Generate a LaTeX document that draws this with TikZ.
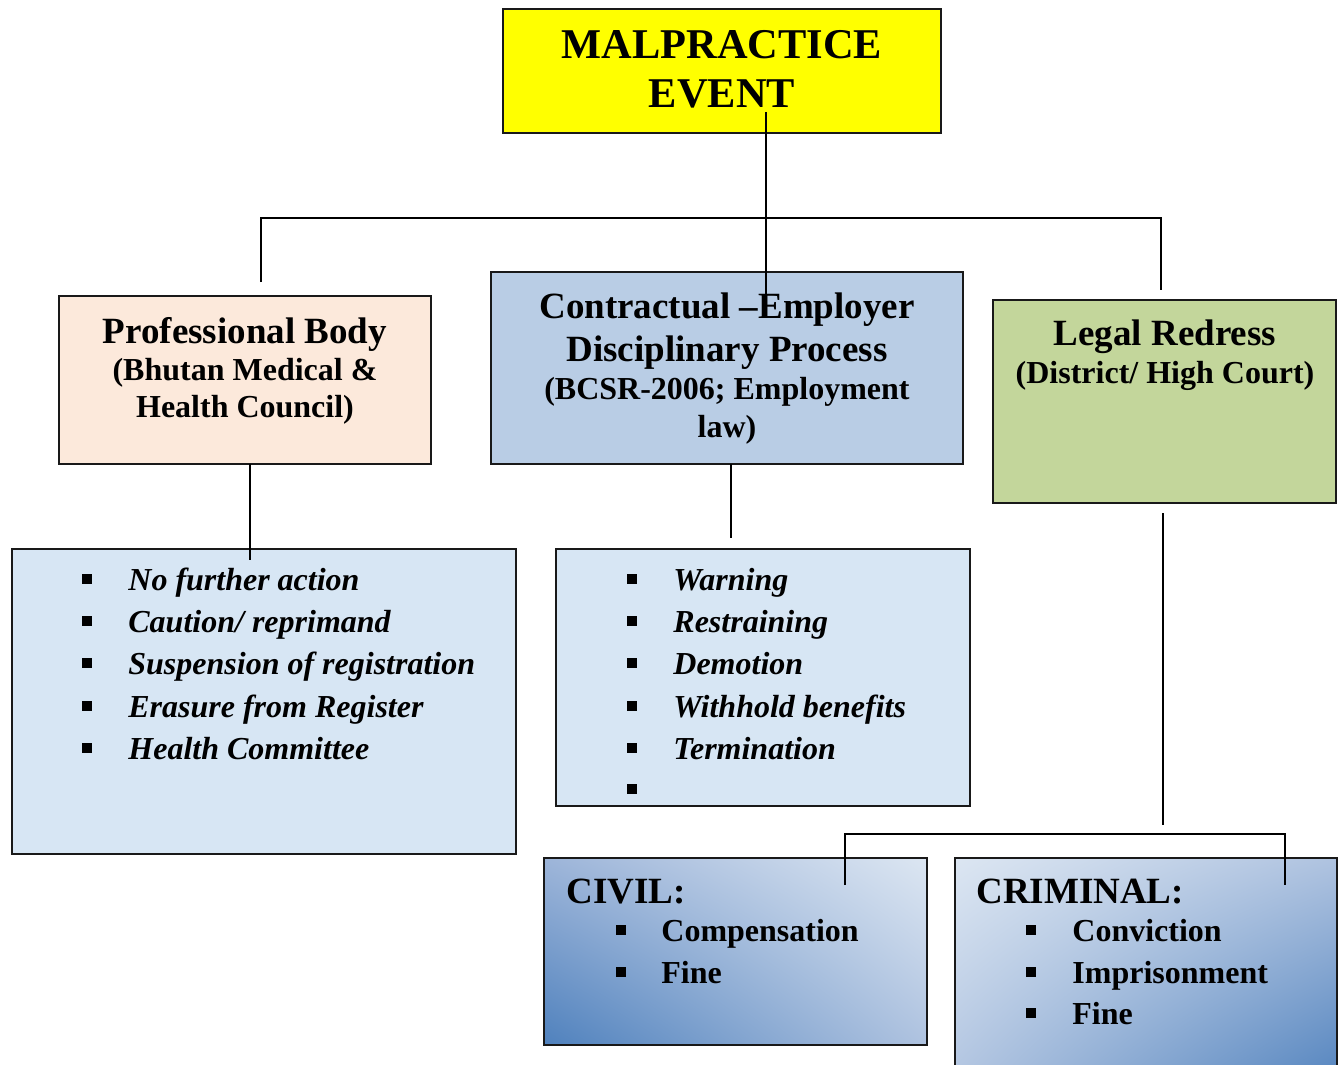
\documentclass[tikz,border=0pt]{standalone}
\usepackage{fontspec}
\setmainfont{Liberation Serif}
\usetikzlibrary{shadings}
\definecolor{peach}{HTML}{FCE9DB}
\definecolor{cblue}{HTML}{B9CDE5}
\definecolor{olivegreen}{HTML}{C3D69B}
\definecolor{lblue}{HTML}{D7E6F4}
\definecolor{gdark}{HTML}{4F81BD}
\definecolor{glight}{HTML}{DCE6F2}
\definecolor{gmid}{HTML}{9DB5D9}
\definecolor{gmid2}{HTML}{AFC3E0}
\definecolor{pureyellow}{HTML}{FFFF00}
\begin{document}
\begin{tikzpicture}[x=0.5pt,y=-0.5pt,
  box/.style={draw=black!90, line width=1pt, inner sep=0pt, rectangle},
  conn/.style={line width=1pt, draw=black},
  ttl/.style={font=\fontsize{21.2}{25}\selectfont\bfseries, inner sep=0pt, anchor=base},
  hd/.style={font=\fontsize{18.5}{22}\selectfont\bfseries, inner sep=0pt, anchor=base},
  sub/.style={font=\fontsize{16}{19}\selectfont\bfseries, inner sep=0pt, anchor=base},
  hdl/.style={font=\fontsize{18.5}{22}\selectfont\bfseries, inner sep=0pt, anchor=base west},
  item/.style={font=\fontsize{16}{19}\selectfont\bfseries\itshape, inner sep=0pt, anchor=base west},
  itemr/.style={font=\fontsize{16}{19}\selectfont\bfseries, inner sep=0pt, anchor=base west},
  bul/.style={fill=black, inner sep=0pt, minimum size=4.6pt, rectangle},
]
\useasboundingbox (0,0) rectangle (1344,1065);
\fill[white] (0,0) rectangle (1344,1065);
\clip (0,0) rectangle (1344,1065);

% ---------- boxes ----------
\node[box, fill=pureyellow, minimum width=219pt, minimum height=62pt] (mal) at (722,71) {};
\node[box, fill=peach, minimum width=186pt, minimum height=84pt] (pb) at (245,380) {};
\node[box, fill=cblue, minimum width=236pt, minimum height=96pt] (cd) at (727,368) {};
\node[box, fill=olivegreen, minimum width=171.5pt, minimum height=101.5pt] (lr) at (1164.5,401.5) {};
\node[box, fill=lblue, minimum width=252pt, minimum height=152.5pt] (l1) at (264,701.5) {};
\node[box, fill=lblue, minimum width=207pt, minimum height=128.5pt] (l2) at (763,677.5) {};
\node[box, upper left=gmid, upper right=glight, lower left=gdark, lower right=gmid2,
      minimum width=191.5pt, minimum height=93.5pt] (civ) at (735.5,951.5) {};
\node[box, upper left=glight, upper right=gmid2, lower left=gmid2, lower right=gdark,
      minimum width=191pt, minimum height=118.5pt] (cri) at (1146,976.5) {};

% ---------- texts ----------
\node[ttl] (t1) at (722,59) {MALPRACTICE};
\node[ttl] (t2) at (722,108) {EVENT};

\node[hd] (pb1) at (245,343) {Professional Body};
\node[sub] (pb2) at (245,380) {(Bhutan Medical \&};
\node[sub] (pb3) at (245,417) {Health Council)};

\node[hd] (cd1) at (727,318) {Contractual –Employer};
\node[hd] (cd2) at (727,361) {Disciplinary Process};
\node[sub] (cd3) at (727,399) {(BCSR-2006; Employment};
\node[sub] (cd4) at (727,437) {law)};

\node[hd] (lr1) at (1165,345) {Legal Redress};
\node[sub] (lr2) at (1165,383) {(District/ High Court)};

% list 1
\node[bul] (a1) at (87,579) {};
\node[bul] (a2) at (87,621) {};
\node[bul] (a3) at (87,663) {};
\node[bul] (a4) at (87,706) {};
\node[bul] (a5) at (87,748) {};
\node[item] (at1) at (128,590) {No further action};
\node[item] (at2) at (128,632) {Caution/ reprimand};
\node[item] (at3) at (128,674) {Suspension of registration};
\node[item] (at4) at (128,717) {Erasure from Register};
\node[item] (at5) at (128,759) {Health Committee};

% list 2
\node[bul] (b1) at (632,579) {};
\node[bul] (b2) at (632,621) {};
\node[bul] (b3) at (632,663) {};
\node[bul] (b4) at (632,706) {};
\node[bul] (b5) at (632,748) {};
\node[bul] (b6) at (632,789) {};
\node[item] (bt1) at (673,590) {Warning};
\node[item] (bt2) at (673,632) {Restraining};
\node[item] (bt3) at (673,674) {Demotion};
\node[item] (bt4) at (673,717) {Withhold benefits};
\node[item] (bt5) at (673,759) {Termination};

% civil
\node[hdl] (cv0) at (566,903) {CIVIL:};
\node[bul] (c1) at (621,930) {};
\node[bul] (c2) at (621,972) {};
\node[itemr] (ct1) at (661,941) {Compensation};
\node[itemr] (ct2) at (661,983) {Fine};

% criminal
\node[hdl] (cr0) at (976,903) {CRIMINAL:};
\node[bul] (d1) at (1031,930) {};
\node[bul] (d2) at (1031,972) {};
\node[bul] (d3) at (1031,1013) {};
\node[itemr] (dt1) at (1072,941) {Conviction};
\node[itemr] (dt2) at (1072,983) {Imprisonment};
\node[itemr] (dt3) at (1072,1024) {Fine};

% ---------- connectors ----------
\coordinate (m1) at (766,112);
\coordinate (m2) at (766,298);
\coordinate (hL) at (261,218);
\coordinate (hR) at (1161,218);
\coordinate (pbin) at (261,282);
\coordinate (lrin) at (1161,290);
\coordinate (pbout) at (250,464);
\coordinate (l1in) at (250,560);
\coordinate (cdout) at (731,464);
\coordinate (l2in) at (731,538);
\coordinate (lrout) at (1163,513);
\coordinate (lrend) at (1163,825);
\coordinate (gL) at (845,834);
\coordinate (gR) at (1285,834);
\coordinate (civin) at (845,885);
\coordinate (criin) at (1285,885);

\draw[conn] (m1) -- (m2);
\draw[conn] (pbin) -- (hL) -- (hR) -- (lrin);
\draw[conn] (pbout) -- (l1in);
\draw[conn] (cdout) -- (l2in);
\draw[conn] (lrout) -- (lrend);
\draw[conn] (civin) -- (gL) -- (gR) -- (criin);
\end{tikzpicture}
\end{document}
